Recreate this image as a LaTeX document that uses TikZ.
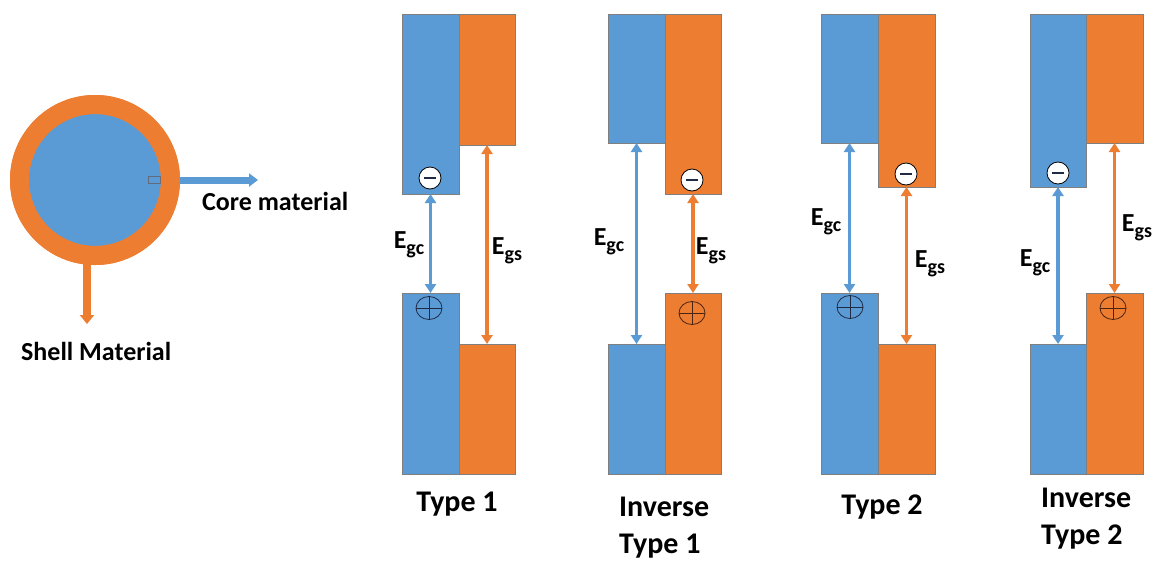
\documentclass[tikz,border=0pt]{standalone}
\usepackage{fontspec}
\setmainfont{Carlito}
\usetikzlibrary{arrows.meta,shapes.geometric}
\definecolor{cblue}{HTML}{5B9BD5}
\definecolor{corange}{HTML}{ED7D31}
\definecolor{edgegray}{HTML}{7F7F7F}
\definecolor{navy}{HTML}{1F2A44}
\definecolor{brownd}{HTML}{4A2410}
\newcommand{\Eg}[1]{E\raisebox{-6pt}{\fontsize{20}{20}\selectfont #1}}
\tikzset{
  band/.style={rectangle, draw=edgegray, line width=0.8pt, inner sep=0pt, outer sep=0pt, anchor=north west},
  cband/.style={band, fill=cblue},
  sband/.style={band, fill=corange},
  bgap/.style={draw=cblue, line width=3.5pt, {Triangle[width=11pt,length=9pt]}-{Triangle[width=11pt,length=9pt]}},
  ogap/.style={draw=corange, line width=3.5pt, {Triangle[width=11pt,length=9pt]}-{Triangle[width=11pt,length=9pt]}},
  electron/.style={circle, draw=black, fill=white, line width=0.8pt, minimum size=22pt, inner sep=0pt,
    path picture={\draw[navy, line width=2.4pt] ([xshift=-6pt]path picture bounding box.center) -- ([xshift=6pt]path picture bounding box.center);}},
  hole/.style={ellipse, draw=#1, line width=0.8pt, minimum width=26pt, minimum height=23pt, inner sep=0pt,
    path picture={\draw[#1, line width=0.8pt] (path picture bounding box.north) -- (path picture bounding box.south)
      (path picture bounding box.west) -- (path picture bounding box.east);}},
  elabel/.style={inner sep=0pt, font=\fontsize{26}{30}\selectfont\bfseries},
  tlabel/.style={inner sep=0pt, align=left, font=\fontsize{30}{37}\selectfont\bfseries},
  mlabel/.style={inner sep=0pt, anchor=north west, font=\fontsize{26}{30}\selectfont\bfseries},
}
\begin{document}
\begin{tikzpicture}[x=1pt,y=-1pt]
\useasboundingbox (0,0) rectangle (1155,560);
\fill[white] (0,0) rectangle (1155,560);

% ---------- core/shell particle ----------
\node[circle, fill=corange, minimum size=170pt, inner sep=0pt] (shell) at (95,180) {};
\node[circle, fill=cblue, minimum size=132pt, inner sep=0pt] (core) at (95,180) {};
\coordinate (corestart) at (148,180);
\coordinate (coreend) at (258,180);
\draw[cblue, line width=7pt, -{Triangle[width=13pt,length=9pt]}] (corestart) -- (coreend);
\draw[navy!70, line width=0.6pt] (148,176.5) rectangle (160,183.5);
\fill[corange, even odd rule] (shell.center) circle (85) (shell.center) circle (66);
\coordinate (shellstart) at (87,262);
\coordinate (shellend) at (87,324);
\draw[corange, line width=8pt, -{Triangle[width=14pt,length=9pt]}] (shellstart) -- (shellend);
\node[mlabel] (coretext) at (202,192) {Core material};
\node[mlabel] (shelltext) at (21,342) {Shell Material};

% ---------- Type 1 ----------
\node[cband, minimum width=57pt, minimum height=180pt] (t1ct) at (402,14) {};
\node[sband, minimum width=56pt, minimum height=131pt] (t1st) at (459,14) {};
\node[cband, minimum width=57pt, minimum height=181pt] (t1cb) at (402,293) {};
\node[sband, minimum width=56pt, minimum height=130pt] (t1sb) at (459,344) {};
\draw[bgap] (t1ct.south) -- (t1cb.north);
\draw[ogap] (t1st.south) -- (t1sb.north);
\node[electron] (t1e) at (430,178) {};
\node[hole=navy] (t1h) at (429,308) {};
\node[elabel] (t1gc) at (409,245) {\Eg{gc}};
\node[elabel] (t1gs) at (507,251) {\Eg{gs}};
\node[tlabel, anchor=north] (t1lab) at (457,492) {Type 1};

% ---------- Inverse Type 1 ----------
\node[cband, minimum width=57pt, minimum height=129pt] (i1ct) at (608,14) {};
\node[sband, minimum width=56pt, minimum height=180pt] (i1st) at (665,14) {};
\node[cband, minimum width=57pt, minimum height=130pt] (i1cb) at (608,344) {};
\node[sband, minimum width=56pt, minimum height=181pt] (i1sb) at (665,293) {};
\draw[bgap] (i1ct.south) -- (i1cb.north);
\draw[ogap] (i1st.south) -- (i1sb.north);
\node[electron] (i1e) at (692,180) {};
\node[hole=brownd] (i1h) at (692,313) {};
\node[elabel] (i1gc) at (609,242) {\Eg{gc}};
\node[elabel] (i1gs) at (711,251) {\Eg{gs}};
\node[tlabel, anchor=north west] (i1lab) at (619,497) {Inverse\\Type 1};

% ---------- Type 2 ----------
\node[cband, minimum width=57pt, minimum height=129pt] (t2ct) at (821,14) {};
\node[sband, minimum width=57pt, minimum height=173pt] (t2st) at (878,14) {};
\node[cband, minimum width=57pt, minimum height=181pt] (t2cb) at (821,293) {};
\node[sband, minimum width=57pt, minimum height=130pt] (t2sb) at (878,344) {};
\draw[bgap] (t2ct.south) -- (t2cb.north);
\draw[ogap] (t2st.south) -- (t2sb.north);
\node[electron] (t2e) at (906,174) {};
\node[hole=navy] (t2h) at (850,307) {};
\node[elabel] (t2gc) at (826,222) {\Eg{gc}};
\node[elabel] (t2gs) at (930,264) {\Eg{gs}};
\node[tlabel, anchor=north] (t2lab) at (882,495) {Type 2};

% ---------- Inverse Type 2 ----------
\node[cband, minimum width=56pt, minimum height=173pt] (i2ct) at (1030,14) {};
\node[sband, minimum width=57pt, minimum height=129pt] (i2st) at (1086,14) {};
\node[cband, minimum width=56pt, minimum height=130pt] (i2cb) at (1030,344) {};
\node[sband, minimum width=57pt, minimum height=181pt] (i2sb) at (1086,293) {};
\draw[bgap] (i2ct.south) -- (i2cb.north);
\draw[ogap] (i2st.south) -- (i2sb.north);
\node[electron] (i2e) at (1058,173) {};
\node[hole=brownd] (i2h) at (1113,308) {};
\node[elabel] (i2gc) at (1035,263) {\Eg{gc}};
\node[elabel] (i2gs) at (1137,228) {\Eg{gs}};
\node[tlabel, anchor=north west] (i2lab) at (1041,488) {Inverse\\Type 2};
\end{tikzpicture}
\end{document}
